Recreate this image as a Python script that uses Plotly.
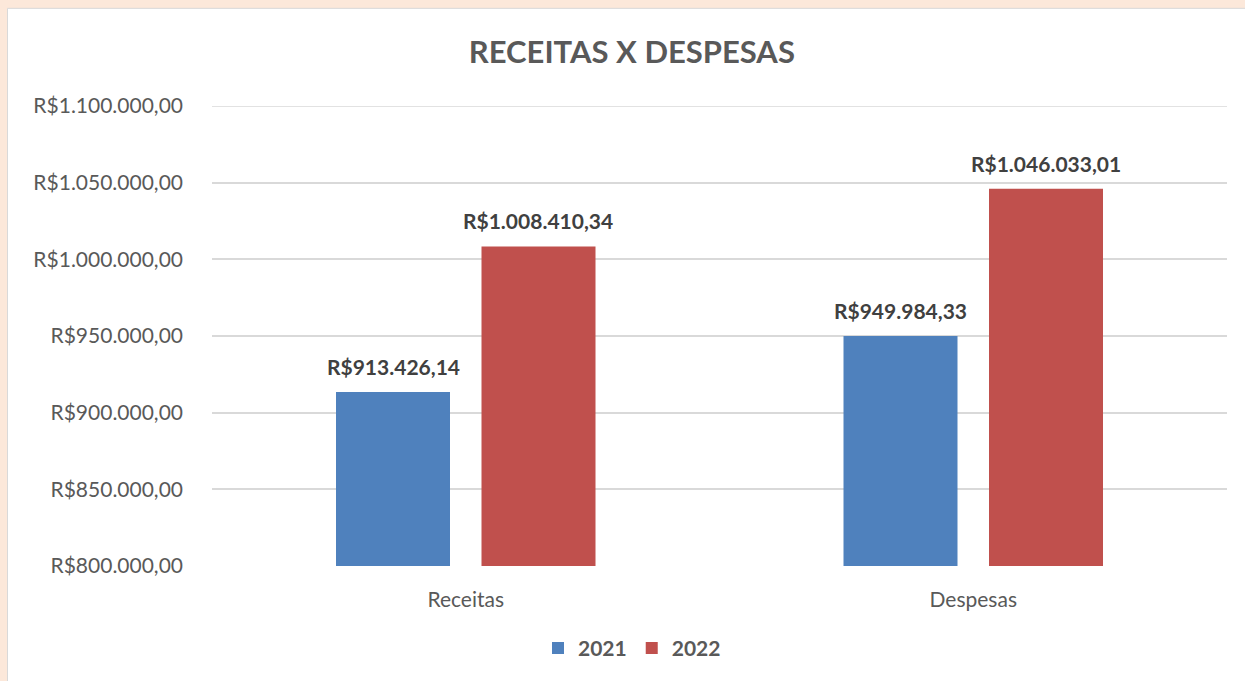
import plotly.graph_objects as go

categories = ["Receitas", "Despesas"]
series_names = ["2021", "2022"]
values_2021 = [913426.14, 949984.33]
values_2022 = [1008410.34, 1046033.01]
labels_2021 = ["R$913.426,14", "R$949.984,33"]
labels_2022 = ["R$1.008.410,34", "R$1.046.033,01"]
tick_values = [800000, 850000, 900000, 950000, 1000000, 1050000, 1100000]
tick_labels = ["R$800.000,00", "R$850.000,00", "R$900.000,00", "R$950.000,00",
               "R$1.000.000,00", "R$1.050.000,00", "R$1.100.000,00"]

W, H = 1245, 681
L, R, T, B = 212, 18, 106, 111
PW, PH = W - L - R, H - T - B

def px_x(px):
    return (px - L) / PW

def px_y(py):
    return (H - B - py) / PH

FONT = "Lato"
GREY = "#595959"
GRID = "#D9D9D9"
fig = go.Figure()
fig.add_trace(go.Bar(x=categories, y=values_2021, name="<b>" + series_names[0] + "</b>",
                     marker=dict(color="#4F81BD", line=dict(width=0))))
fig.add_trace(go.Bar(x=categories, y=values_2022, name="<b>" + series_names[1] + "</b>",
                     marker=dict(color="#C0504D", line=dict(width=0))))

annotations = []
for vals, labs, off in [(values_2021, labels_2021, -0.5), (values_2022, labels_2022, 0.5)]:
    for i, (v, t) in enumerate(zip(vals, labs)):
        annotations.append(dict(x=i + off * 0.2865, y=v, xref="x", yref="y", text="<b>" + t + "</b>",
                                showarrow=False, yanchor="bottom", yshift=11,
                                font=dict(family=FONT, size=21, color="#404040")))

fig.update_layout(
    width=W, height=H,
    margin=dict(l=L, r=R, t=T, b=B, pad=0),
    paper_bgcolor="#FCE8DA",
    plot_bgcolor="rgba(0,0,0,0)",
    barmode="group", bargap=0.4266, bargroupgap=0.2165,
    title=dict(text="<b>RECEITAS X DESPESAS</b>", x=0.5075, xanchor="center",
               y=1 - 52 / H, yanchor="middle", yref="container",
               font=dict(family=FONT, size=31, color=GREY)),
    font=dict(family=FONT, color=GREY, size=21),
    showlegend=True,
    legend=dict(orientation="h", x=px_x(632), xanchor="center", y=px_y(653), yanchor="middle",
                font=dict(family=FONT, size=21, color=GREY), itemwidth=30,
                bgcolor="rgba(0,0,0,0)", traceorder="normal"),
    xaxis=dict(showgrid=False, showline=False, zeroline=False, ticks="",
               tickfont=dict(family=FONT, size=21, color=GREY), ticklabelstandoff=19),
    yaxis=dict(range=[800000, 1100000], tickvals=tick_values, ticktext=tick_labels,
               showgrid=True, gridcolor=GRID, gridwidth=1.5, zeroline=False,
               showline=False, ticks="", ticklabelstandoff=28,
               tickfont=dict(family=FONT, size=21, color=GREY)),
    annotations=annotations,
    shapes=[dict(type="rect", xref="paper", yref="paper", layer="below",
                 x0=px_x(7.5), x1=px_x(W + 20), y0=px_y(7.5), y1=px_y(H + 20),
                 fillcolor="white", line=dict(color=GRID, width=1)),
            dict(type="line", xref="paper", yref="y", layer="below",
                 x0=0, x1=1, y0=tick_values[-1], y1=tick_values[-1],
                 line=dict(color=GRID, width=1.5))],
)

fig.write_html("out.html", config={"displayModeBar": False},
               post_script="document.body.style.margin='0';")
